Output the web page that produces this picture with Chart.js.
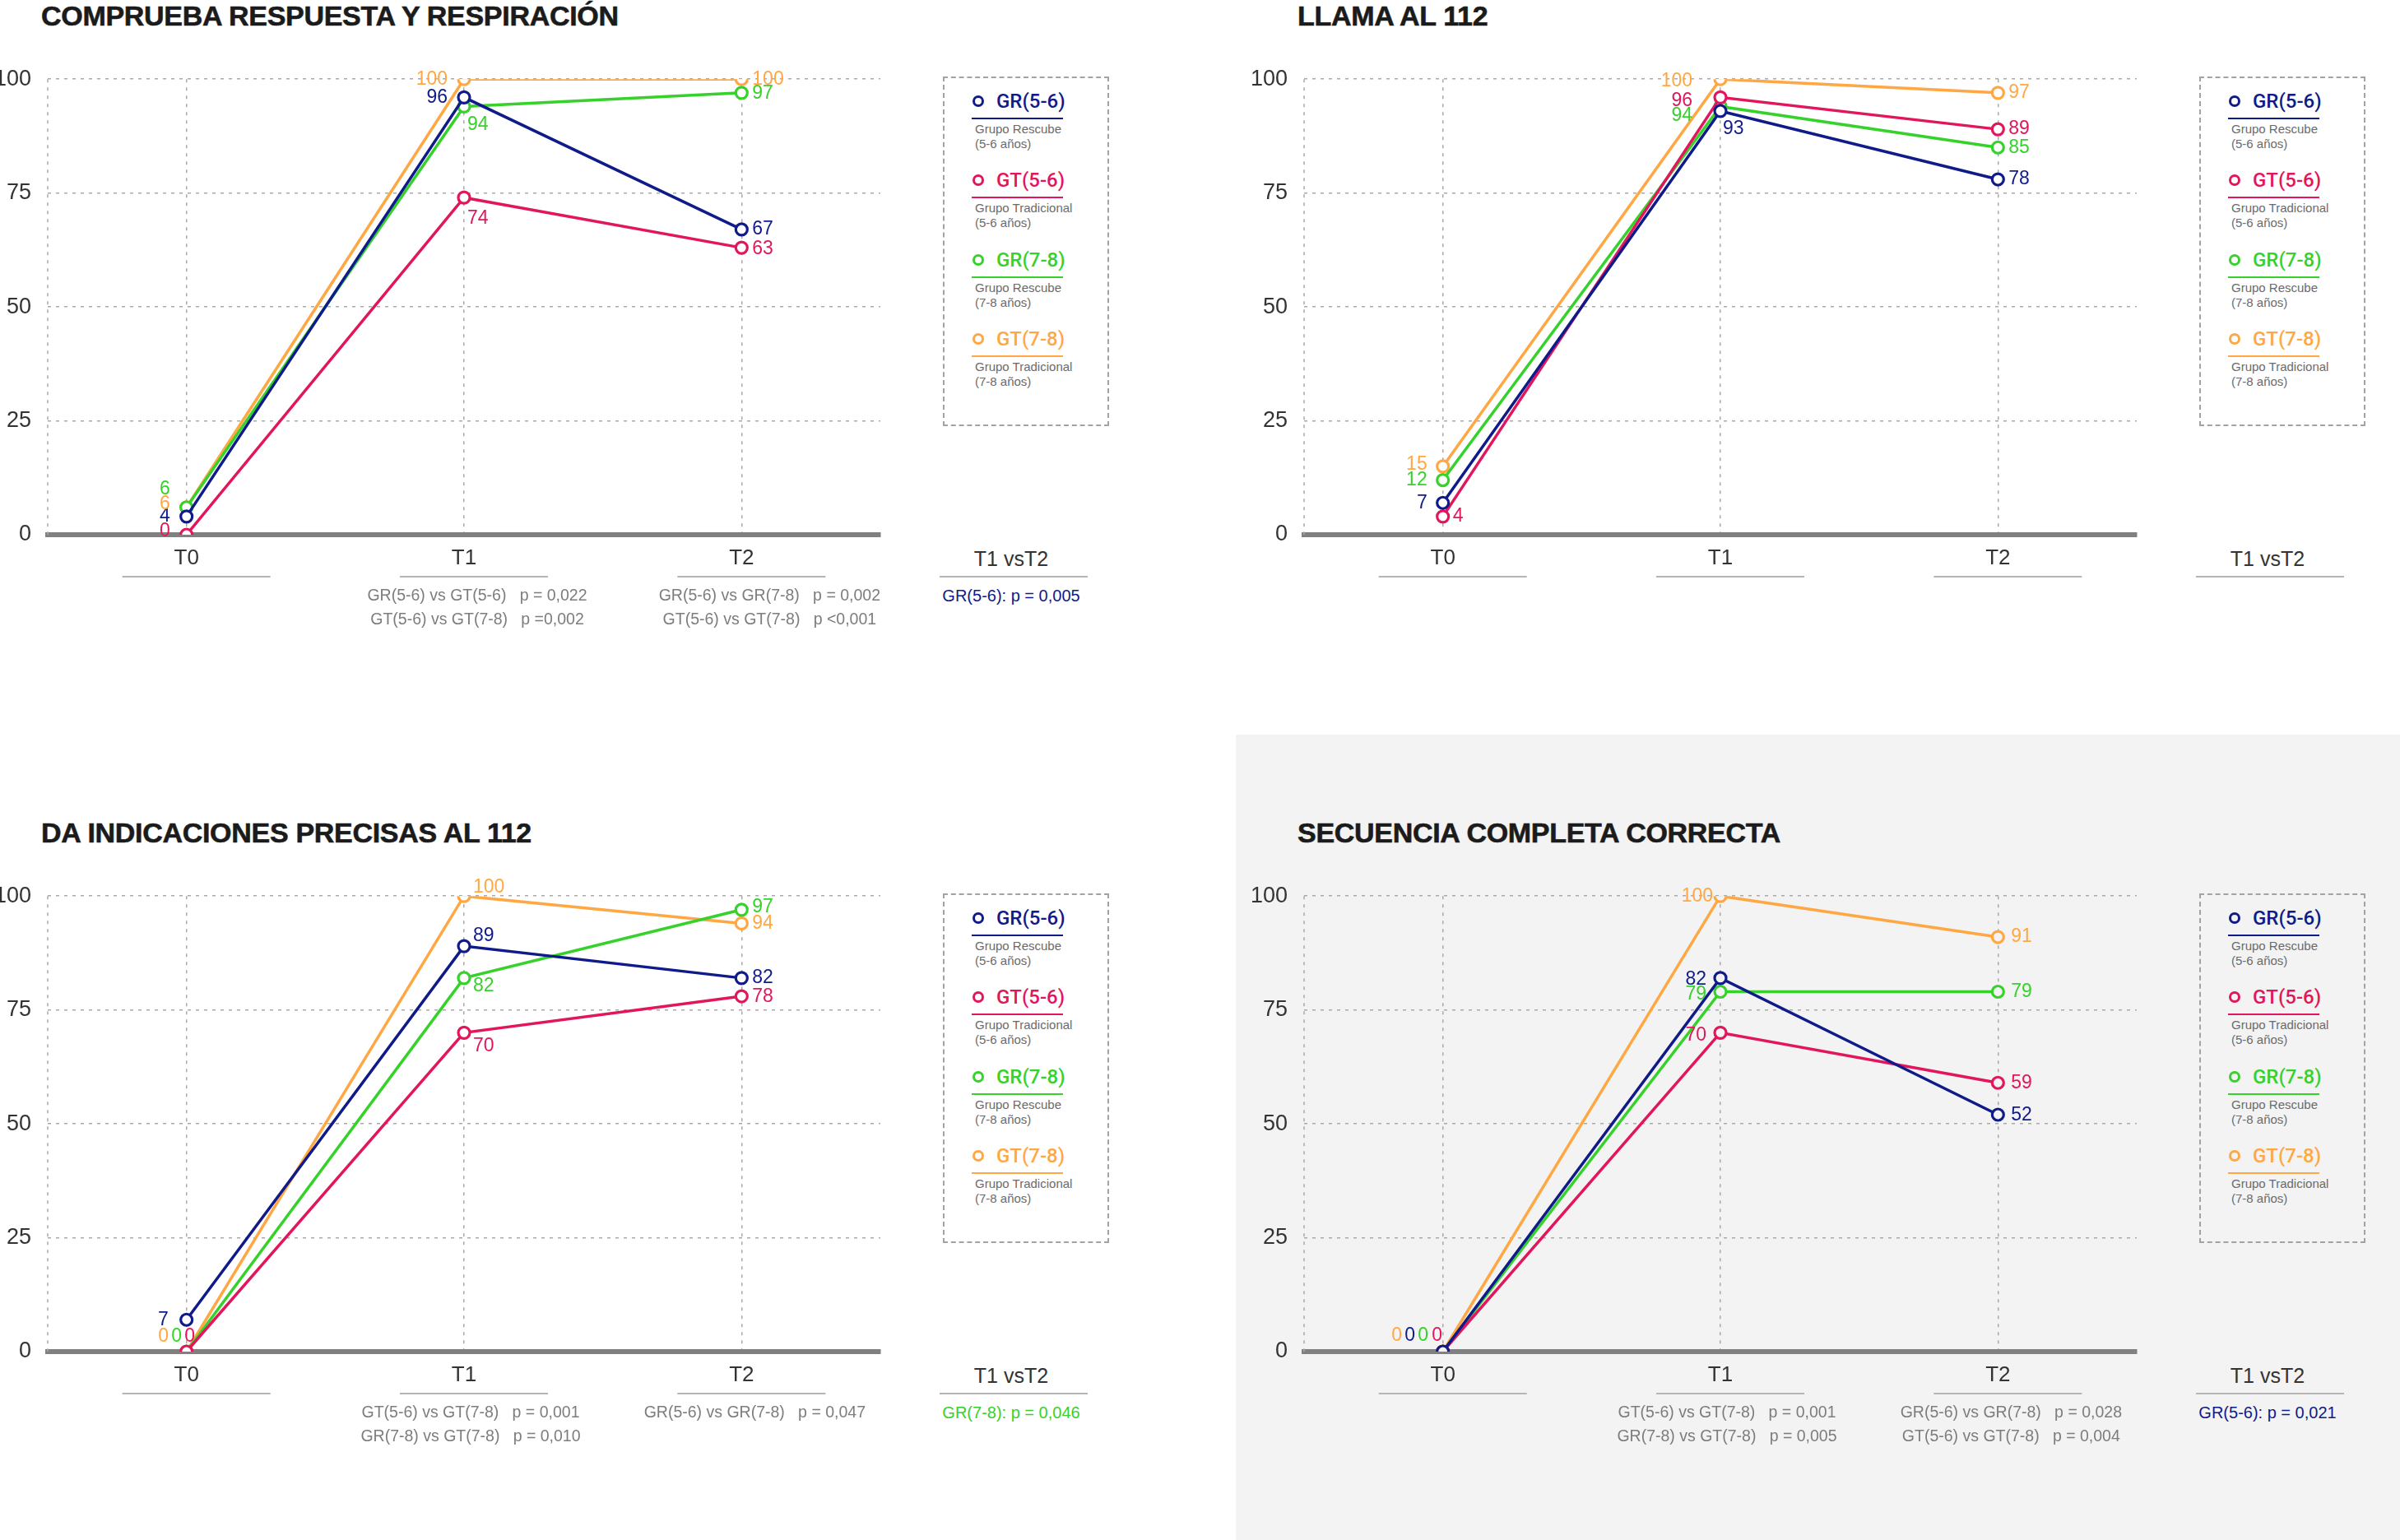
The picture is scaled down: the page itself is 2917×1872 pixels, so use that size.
<!DOCTYPE html>
<html>
<head>
<meta charset="utf-8">
<script src="https://cdn.jsdelivr.net/npm/chart.js@4.4.1/dist/chart.umd.min.js"></script>
<style>
    html, body { margin: 0; padding: 0; background: #fff; }
    #page { position: relative; width: 2917px; height: 1872px; overflow: hidden; background: #fff; }
    .shade { position: absolute; left: 1502px; top: 893px; width: 1415px; height: 979px; background: #f3f3f3; }
    .panel { position: absolute; width: 1400px; height: 880px; }
    .panel h2 { position: absolute; left: 50px; top: 0; margin: 0; white-space: nowrap;
        font: bold 34px "Liberation Sans", Arial, sans-serif; line-height: 38px; color: #1b1b1b; letter-spacing: -0.3px;
        -webkit-text-stroke: 0.6px #1b1b1b; }
    .panel canvas { position: absolute; left: -14px; top: 60px; }
    .legend { position: absolute; left: 1146px; top: 93px; width: 202px; height: 425px; box-sizing: border-box;
        border: 2px dashed #a3a3a3; }
    .item { position: absolute; left: -2px; width: 202px; height: 96px; }
    .dot { position: absolute; left: 36px; top: 23px; width: 14px; height: 14px; box-sizing: border-box;
        border-radius: 50%; border: 3px solid; }
    .name { position: absolute; left: 65px; top: 16px; font: 500 24px Roboto, sans-serif; line-height: 28px; white-space: nowrap; }
    .rule { position: absolute; left: 35px; top: 50px; width: 111px; height: 2px; }
    .desc { position: absolute; left: 39px; top: 55px; font: 15px "Liberation Sans", Arial, sans-serif; line-height: 18px;
        color: #6b6b6b; white-space: nowrap; }
    .cmp { position: absolute; left: 1139px; width: 180px; text-align: center; font-family: "Liberation Sans", Arial, sans-serif; }
    .cmp .head { position: absolute; top: 664px; width: 100%; font-size: 25px; line-height: 30px; color: #333; }
    .cmp .line { position: absolute; top: 700px; left: 3px; width: 180px; height: 2px; background: #b5b5b5; }
    .cmp .pval { position: absolute; top: 711px; width: 100%; font-size: 20px; line-height: 26px; white-space: nowrap; }
</style>
</head>
<body>
<div id="page"><div class="shade"></div></div>
<script>
const FONT = '"Liberation Sans", Arial, Helvetica, sans-serif';
const NARROW = '"Liberation Sans Narrow", "Liberation Sans", Arial, sans-serif';

const categories = ['T0', 'T1', 'T2'];
const yTickValues = [0, 25, 50, 75, 100];
const groupNames = ['GR(5-6)', 'GT(5-6)', 'GR(7-8)', 'GT(7-8)'];
const groupLines = [
    ['Grupo Rescube', '(5-6 años)'],
    ['Grupo Tradicional', '(5-6 años)'],
    ['Grupo Rescube', '(7-8 años)'],
    ['Grupo Tradicional', '(7-8 años)']
];
const groupColors = ['#101b8a', '#e2165c', '#36d22b', '#ffa843'];

// Comprueba respuesta y respiración
const respiracionValues = [[4, 96, 67], [0, 74, 63], [6, 94, 97], [6, 100, 100]];
const respiracionT1 = ['GR(5-6) vs GT(5-6)   p = 0,022', 'GT(5-6) vs GT(7-8)   p =0,002'];
const respiracionT2 = ['GR(5-6) vs GR(7-8)   p = 0,002', 'GT(5-6) vs GT(7-8)   p <0,001'];

// Llama al 112
const llamaValues = [[7, 93, 78], [4, 96, 89], [12, 94, 85], [15, 100, 97]];

// Da indicaciones precisas al 112
const indicacionesValues = [[7, 89, 82], [0, 70, 78], [0, 82, 97], [0, 100, 94]];
const indicacionesT1 = ['GT(5-6) vs GT(7-8)   p = 0,001', 'GR(7-8) vs GT(7-8)   p = 0,010'];
const indicacionesT2 = ['GR(5-6) vs GR(7-8)   p = 0,047'];

// Secuencia completa correcta
const secuenciaValues = [[0, 82, 52], [0, 70, 59], [0, 79, 79], [0, 100, 91]];
const secuenciaT1 = ['GT(5-6) vs GT(7-8)   p = 0,001', 'GR(7-8) vs GT(7-8)   p = 0,005'];
const secuenciaT2 = ['GR(5-6) vs GR(7-8)   p = 0,028', 'GT(5-6) vs GT(7-8)   p = 0,004'];

// label placement helpers: text left of the point, right of it, or centred
const L = (dy = 0, dx = -18) => ['right', dx, dy];
const R = (dy = 0, dx = 13) => ['left', dx, dy];
const C = (dx, dy) => ['center', dx, dy];

const panels = [
    {
        title: 'COMPRUEBA RESPUESTA Y RESPIRACIÓN', left: 0, top: 0, bg: '#ffffff',
        values: respiracionValues, t1: respiracionT1, t2: respiracionT2, noteShift: [16, 34],
        cmpText: 'GR(5-6): p = 0,005', cmpColor: 0,
        labelPos: [
            [L(0, -20), L(0, -20), R()],
            [L(-4, -20), R(25, 4), R(2)],
            [L(-22, -20), R(22, 4), R(1)],
            [L(-4, -20), L(0, -20), R()]
        ]
    },
    {
        title: 'LLAMA AL 112', left: 1527, top: 0, bg: '#ffffff',
        values: llamaValues, t1: [], t2: [], noteShift: [10, 20],
        cmpText: '', cmpColor: 0,
        labelPos: [
            [L(0, -19), R(22, 3), R()],
            [R(0, 12), L(4, -34), R()],
            [L(0, -19), L(11, -34), R()],
            [L(-2, -19), L(2, -34), R()]
        ]
    },
    {
        title: 'DA INDICACIONES PRECISAS AL 112', left: 0, top: 993, bg: '#ffffff',
        values: indicacionesValues, t1: indicacionesT1, t2: indicacionesT2, noteShift: [8, 16],
        cmpText: 'GR(7-8): p = 0,046', cmpColor: 2,
        labelPos: [
            [L(0, -22), R(-12, 11), R()],
            [C(4, -18), R(16, 11), R(1)],
            [C(-12, -18), R(10, 11), R(-3)],
            [C(-28, -18), R(-11, 11), R()]
        ]
    },
    {
        title: 'SECUENCIA COMPLETA CORRECTA', left: 1527, top: 993, bg: '#f3f3f3',
        values: secuenciaValues, t1: secuenciaT1, t2: secuenciaT2, noteShift: [8, 16],
        cmpText: 'GR(5-6): p = 0,021', cmpColor: 0,
        labelPos: [
            [C(-40, -19), L(2, -17), R(1, 16)],
            [C(-7, -19), L(3, -17), R(0, 16)],
            [C(-24, -19), L(3, -17), R(0, 16)],
            [C(-56, -19), L(0, -9), R(0, 16)]
        ]
    }
];

Chart.defaults.font.family = FONT;

function buildLegend(panel) {
    const box = document.createElement('div');
    box.className = 'legend';
    groupNames.forEach((name, i) => {
        const item = document.createElement('div');
        item.className = 'item';
        item.style.top = (i * 96.3 - 2) + 'px';
        item.innerHTML =
            '<div class="dot" style="border-color:' + groupColors[i] + '"></div>' +
            '<div class="name" style="color:' + groupColors[i] + '">' + name + '</div>' +
            '<div class="rule" style="background:' + groupColors[i] + '"></div>' +
            '<div class="desc">' + groupLines[i].join('<br>') + '</div>';
        box.appendChild(item);
    });
    panel.appendChild(box);
}

function buildPanel(p) {
    const panel = document.createElement('div');
    panel.className = 'panel';
    panel.style.left = p.left + 'px';
    panel.style.top = p.top + 'px';

    const title = document.createElement('h2');
    title.textContent = p.title;
    panel.appendChild(title);

    const canvas = document.createElement('canvas');
    canvas.width = 1104;
    canvas.height = 720;
    canvas.style.width = '1104px';
    canvas.style.height = '720px';
    panel.appendChild(canvas);

    buildLegend(panel);

    const cmp = document.createElement('div');
    cmp.className = 'cmp';
    cmp.innerHTML = '<div class="head">T1 vsT2</div><div class="line"></div>' +
        '<div class="pval" style="color:' + groupColors[p.cmpColor] + '">' + p.cmpText + '</div>';
    panel.appendChild(cmp);

    document.getElementById('page').appendChild(panel);

    // dashed left edge of the plot
    const leftEdge = {
        id: 'leftEdge',
        beforeDatasetsDraw(chart) {
            const a = chart.chartArea;
            const ctx = chart.ctx;
            ctx.save();
            ctx.strokeStyle = '#a9a9a9';
            ctx.lineWidth = 1.5;
            ctx.setLineDash([4, 6]);
            ctx.beginPath();
            ctx.moveTo(a.left, a.top);
            ctx.lineTo(a.left, a.bottom);
            ctx.stroke();
            ctx.restore();
        }
    };

    // numbers next to every point
    const valueLabels = {
        id: 'valueLabels',
        afterDatasetsDraw(chart) {
            const ctx = chart.ctx;
            ctx.save();
            ctx.font = '23px ' + FONT;
            ctx.textBaseline = 'middle';
            chart.data.datasets.forEach((ds, i) => {
                chart.getDatasetMeta(i).data.forEach((pt, j) => {
                    const [align, dx, dy] = p.labelPos[i][j];
                    ctx.fillStyle = ds.borderColor;
                    ctx.textAlign = align;
                    ctx.fillText(String(ds.data[j]), pt.x + dx, pt.y + dy);
                });
            });
            ctx.restore();
        }
    };

    // underline below each category and the p-value notes
    const tickNotes = {
        id: 'tickNotes',
        afterDraw(chart) {
            const ctx = chart.ctx;
            const x = chart.scales.x;
            const bottom = chart.chartArea.bottom;
            ctx.save();
            categories.forEach((c, j) => {
                const cx = x.getPixelForValue(j) + 12;
                ctx.fillStyle = '#b5b5b5';
                ctx.fillRect(cx - 90, bottom + 50, 180, 2);
            });
            ctx.font = '19.5px ' + FONT;
            ctx.fillStyle = '#7d7d7d';
            ctx.textAlign = 'center';
            ctx.textBaseline = 'middle';
            [p.t1, p.t2].forEach((lines, k) => {
                const cx = x.getPixelForValue(k + 1) + p.noteShift[k];
                lines.forEach((txt, n) => ctx.fillText(txt, cx, bottom + 75 + n * 29));
            });
            ctx.restore();
        }
    };

    new Chart(canvas.getContext('2d'), {
        type: 'line',
        data: {
            labels: categories,
            datasets: p.values.map((v, i) => ({
                label: groupNames[i],
                data: v,
                borderColor: groupColors[i],
                backgroundColor: p.bg,
                borderWidth: 3.5,
                tension: 0,
                pointRadius: 7,
                pointBorderWidth: 3.2,
                pointBackgroundColor: p.bg,
                pointBorderColor: groupColors[i]
            }))
        },
        options: {
            responsive: false,
            devicePixelRatio: 1,
            animation: false,
            events: [],
            layout: { padding: { top: 24, right: 20, left: 0, bottom: 0 } },
            plugins: {
                legend: { display: false },
                tooltip: { enabled: false }
            },
            scales: {
                x: {
                    offset: true,
                    grid: { color: '#a9a9a9', lineWidth: 1.5, drawTicks: false },
                    border: { display: true, color: '#808080', width: 6, dash: [4, 6] },
                    ticks: { color: '#333', font: { size: 26 }, padding: 13 },
                    afterFit: (s) => { s.height = 130; }
                },
                y: {
                    min: 0,
                    max: 100,
                    grid: { color: '#a9a9a9', lineWidth: 1.5, drawTicks: false },
                    border: { display: false, dash: [4, 6] },
                    ticks: { color: '#333', font: { size: 27, family: NARROW }, padding: 20 },
                    afterBuildTicks: (s) => { s.ticks = yTickValues.map(v => ({ value: v })); },
                    afterFit: (s) => { s.width = 72; }
                }
            }
        },
        plugins: [leftEdge, valueLabels, tickNotes]
    });
}

panels.forEach(buildPanel);
</script>
</body>
</html>
